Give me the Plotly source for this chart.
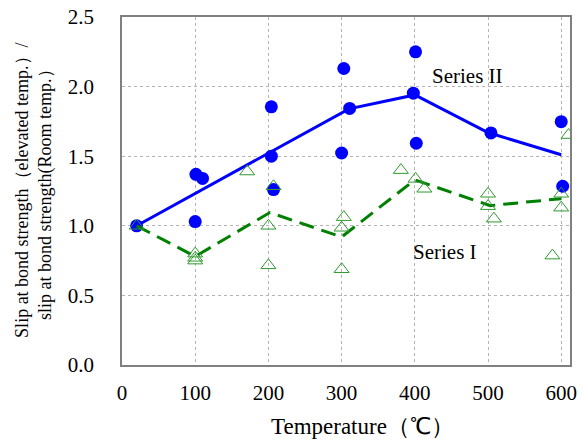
import plotly.graph_objects as go

# Series II (blue dots) scatter data
s2_x = [20, 101, 110, 100, 204, 204, 207, 303, 311, 300, 401, 398, 402, 504, 600, 602]
s2_y = [1.00, 1.37, 1.34, 1.03, 1.855, 1.50, 1.26, 2.13, 1.843, 1.523, 2.25, 1.953, 1.593, 1.667, 1.748, 1.284]
# Series II trend line
s2_line_x = [20, 310, 400, 500, 600]
s2_line_y = [1.00, 1.84, 1.94, 1.67, 1.51]

# Series I (green triangles) scatter data
s1_x = [20, 100, 100, 100, 171, 207, 200, 200, 381, 401, 413, 500, 500, 508, 610, 600, 600, 303, 300, 300, 588]
s1_y = [1.00, 0.80, 0.77, 0.75, 1.39, 1.284, 1.00, 0.716, 1.40, 1.337, 1.266, 1.23, 1.141, 1.051, 1.652, 1.23, 1.13, 1.062, 0.986, 0.688, 0.786]
# Series I trend line
s1_line_x = [20, 100, 202, 300, 400, 503, 600]
s1_line_y = [1.00, 0.78, 1.095, 0.92, 1.33, 1.145, 1.195]

x_ticks = [0, 100, 200, 300, 400, 500, 600]
y_ticks = [0.0, 0.5, 1.0, 1.5, 2.0, 2.5]

SERIF = "Times New Roman, Liberation Serif, serif"

fig = go.Figure()
fig.add_trace(go.Scatter(x=s2_line_x, y=s2_line_y, mode="lines",
                         line=dict(color="#0000ff", width=3), showlegend=False))
fig.add_trace(go.Scatter(x=s2_x, y=s2_y, mode="markers",
                         marker=dict(color="#0000ff", size=13, line=dict(width=0)), showlegend=False))
fig.add_trace(go.Scatter(x=s1_line_x, y=s1_line_y, mode="lines",
                         line=dict(color="#008000", width=3, dash="15px,8px"), showlegend=False))
fig.add_trace(go.Scatter(x=s1_x, y=s1_y, mode="markers",
                         marker=dict(symbol="triangle-up-open", color="#2e9a2e", size=13,
                                     line=dict(width=1, color="#2e9a2e")), showlegend=False))

fig.update_layout(
    width=582, height=442,
    margin=dict(l=122, r=5, t=16, b=77),
    paper_bgcolor="white", plot_bgcolor="white",
    font=dict(family=SERIF, size=20, color="#000000"),
    showlegend=False,
)
fig.update_xaxes(range=[0, 612], tickvals=x_ticks, ticktext=[str(v) for v in x_ticks],
                 showline=True, mirror=True, linecolor="#808080", linewidth=1.5,
                 showgrid=True, gridcolor="#b4b4b4", griddash="dot", gridwidth=1,
                 zeroline=False, ticks="", ticklabelstandoff=8,
                 tickfont=dict(family=SERIF, size=21))
fig.update_yaxes(range=[0, 2.5], tickvals=y_ticks, ticktext=[f"{v:.1f}" for v in y_ticks],
                 showline=True, mirror=True, linecolor="#808080", linewidth=1.5,
                 showgrid=True, gridcolor="#b4b4b4", griddash="dot", gridwidth=1,
                 zeroline=False, ticks="", ticklabelstandoff=22,
                 tickfont=dict(family=SERIF, size=21))

fig.add_annotation(text="Series II", xref="x", yref="y", x=(473 - 121.2) / 0.745, y=(365 - 75) / 139.6,
                   showarrow=False, font=dict(family=SERIF, size=21), xanchor="center", yanchor="middle")
fig.add_annotation(text="Series I", xref="x", yref="y", x=(450 - 121.2) / 0.745, y=(365 - 252) / 139.6,
                   showarrow=False, font=dict(family=SERIF, size=21), xanchor="center", yanchor="middle")

fig.add_annotation(text="Temperature（℃）", xref="paper", yref="paper",
                   x=(366 - 122) / 455, y=(365 - 427) / 349, showarrow=False,
                   font=dict(family=SERIF, size=23), xanchor="center", yanchor="middle")
fig.add_annotation(text="Slip at bond strength（elevated temp.）/<br>slip at bond <span style='font-size:18px'>strength(Room temp.）</span>",
                   xref="paper", yref="paper", x=(32 - 122) / 455, y=(365 - 190) / 349,
                   textangle=-90, showarrow=False, font=dict(family=SERIF, size=18),
                   xanchor="center", yanchor="middle", align="center")

fig.write_html("out.html")
